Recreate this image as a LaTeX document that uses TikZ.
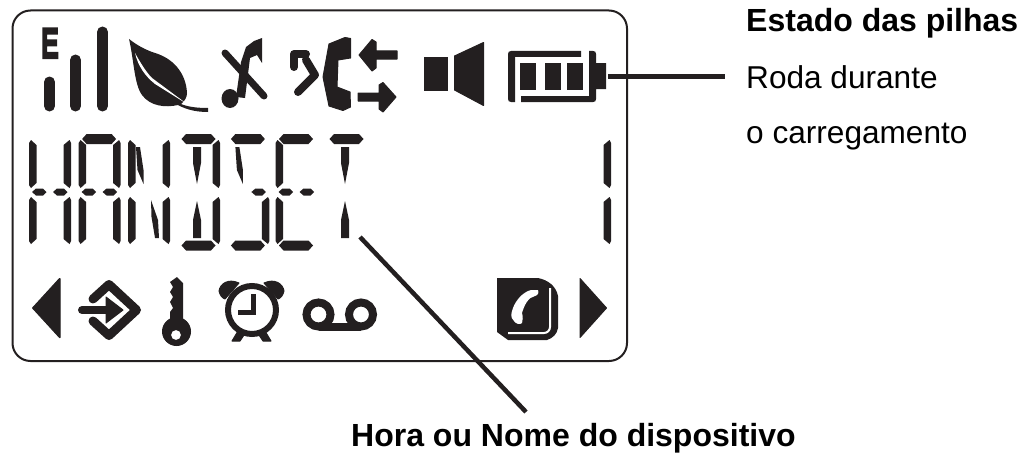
\documentclass[tikz,border=0pt]{standalone}
\usepackage{fontspec}
\setmainfont{Liberation Sans}
\newfontfamily\signalfont[FakeBold=10]{Liberation Sans}
\usetikzlibrary{positioning}
\definecolor{lcdink}{HTML}{231F20}

% one display segment each, drawn from the left edge of its character
\newcommand{\segtop}{\fill[seg] (3.5,139) -- (8,134) -- (33,134) -- (37.5,139) -- (33,144) -- (8,144) -- cycle;}
\newcommand{\segbot}{\fill[seg] (3.5,245.5) -- (8,240.5) -- (33,240.5) -- (37.5,245.5) -- (33,250.5) -- (8,250.5) -- cycle;}
\newcommand{\segml}{\fill[seg] (3,192) -- (7,188.5) -- (14,188.5) -- (17.5,192) -- (14,195.5) -- (7,195.5) -- cycle;}
\newcommand{\segmr}{\fill[seg] (24,192) -- (28,188.5) -- (35,188.5) -- (38.5,192) -- (35,195.5) -- (28,195.5) -- cycle;}
\newcommand{\segvlu}{\fill[seg] (0,143) -- (2,140) -- (7.5,145) -- (7.5,183) -- (2,188) -- (0,185) -- cycle;}
\newcommand{\segvld}{\fill[seg] (0,200) -- (2,197) -- (7.5,202) -- (7.5,239) -- (2,244) -- (0,241) -- cycle;}
\newcommand{\segvru}{\fill[seg] (42,143) -- (40.5,140) -- (34.5,145) -- (34.5,183) -- (40.5,188) -- (42,185) -- cycle;}
\newcommand{\segvrd}{\fill[seg] (42,200) -- (40.5,197) -- (34.5,202) -- (34.5,239) -- (40.5,244) -- (42,241) -- cycle;}
\newcommand{\segcu}{\fill[seg] (15,147) -- (23,147) -- (23,163) -- (19,184) -- (15,163) -- cycle;}
\newcommand{\segcd}{\fill[seg] (19,201) -- (23,220) -- (23,238) -- (15,238) -- (15,220) -- cycle;}
\newcommand{\segdu}{\fill[seg] (8,147) -- (12,147) -- (15.5,170) -- (15.5,184) -- (9.5,170) -- cycle;}
\newcommand{\segdl}{\fill[seg] (23,200) -- (30,220) -- (31,238) -- (27,238) -- (23.5,217) -- cycle;}

\begin{document}
\begin{tikzpicture}[
    x=1pt, y=-1pt,
    seg/.style={fill=lcdink},
    icon/.style={fill=lcdink, draw=lcdink, line width=1pt, line join=round},
    bar/.style={draw=lcdink, line width=#1, line cap=round, line join=round},
    leader/.style={draw=lcdink, line width=4.5pt},
    lbl/.style={font=\fontsize{31.6}{32}\selectfont, inner sep=0pt, anchor=base west},
    lblb/.style={lbl, font=\fontsize{32}{32}\selectfont\bfseries}
  ]
  \useasboundingbox (0,0) rectangle (1032,452);

  % Display frame
  \draw[draw=lcdink, line width=2pt, rounded corners=18pt] (12.5,10.5) rectangle (627,361);

  % Signal bars
  \node[inner sep=0pt, font=\fontsize{40}{40}\selectfont\signalfont, xscale=0.62, transform shape,
        anchor=base west, text=lcdink] (signale) at (41.5,57) {E};
  \draw[bar=11pt] (49.5,82) -- (49.5,106);
  \draw[bar=11pt] (75.5,60) -- (75.5,106);
  \draw[bar=11pt] (102.5,32) -- (102.5,106);

  % Leaf
  \fill[seg] (129,39) .. controls (138,46) and (146,50) .. (155,53)
    .. controls (172,58) and (186,72) .. (187,93)
    .. controls (187,97) and (185,101) .. (181,104)
    .. controls (188,107) and (198,108) .. (208,108) -- (208,112)
    .. controls (197,112) and (187,110) .. (178,105)
    .. controls (165,108) and (150,106) .. (142,95)
    .. controls (134,84) and (134,60) .. (129,39) -- cycle;
  \fill[white] (135,53) .. controls (138,66) and (145,76) .. (155,84) -- (187,104)
    -- (152,78) .. controls (146,72) and (140,62) .. (135,53) -- cycle;

  % Muted note
  \fill[seg] (230,98.5) ellipse (8.5 and 9.5);
  \fill[seg] (236,97) -- (241,62) -- (246,47) -- (254,41) -- (262,38) -- (262,63)
    -- (257,55) -- (250,58) -- (245,98) -- cycle;
  \draw[bar=7pt] (225,53) -- (264,96);

  % Call arrow
  \draw[bar=8pt] (306,54) -- (294,54) -- (294,67);
  \draw[bar=8pt] (306,60) -- (315,75) -- (298,92);

  % Handset and transfer arrows
  \fill[icon] (345,37.5) -- (350.5,38.5) -- (350.5,58) -- (338,60) -- (337,87) -- (350,92) -- (350.5,107)
    -- (343,110.5) -- (329,106) -- (323,77) -- (329,44) -- cycle;
  \fill[icon] (359,55) -- (372,39.5) -- (376,42) -- (376,51) -- (397,51) -- (397,59) -- (376,59) -- (376,68) -- (372,71) -- cycle;
  \fill[icon] (396,97) -- (383,82.5) -- (379,85) -- (379,93) -- (358,93) -- (358,101) -- (379,101) -- (379,109) -- (383,112) -- cycle;

  % Speaker
  \fill[icon] (424,57.5) rectangle (447.5,90.5);
  \fill[icon] (454.5,56) -- (483.5,42.5) -- (483.5,105.5) -- (454.5,90) -- cycle;

  % Battery
  \fill[seg] (581,51) -- (511,51) .. controls (509,51) and (508,52) .. (508,54)
    -- (508,99) .. controls (508,101) and (509,102) .. (511,102) -- (515,102) -- (515,57) -- (581,57) -- cycle;
  \fill[seg] (521,102) -- (593,102) .. controls (595,102) and (596,101) .. (596,99)
    -- (596,89) -- (606,89) -- (606,63) -- (596,63) -- (596,54) .. controls (596,52) and (595,51) .. (593,51)
    -- (589,51) -- (589,96) -- (521,96) -- cycle;
  \foreach \cellx in {520,545,567}
    \fill[seg] (\cellx,63) rectangle ++(16,27);
  \coordinate (battip) at (608,76.7);

  % HANDSET and the line number
  \foreach \cx/\seglist in {29/{vlu,vld,vru,vrd,ml,mr},
                            78.6/{vlu,vld,vru,vrd,top,ml,mr},
                            128/{vlu,vld,vru,vrd,du,dl},
                            178/{top,bot,cu,cd,vru,vrd},
                            227.4/{top,du,mr,vrd,bot},
                            275.5/{vlu,vld,top,ml,mr,bot},
                            326/{top,cu,cd},
                            569/{vru,vrd}}{
    \begin{scope}[xshift=\cx]
      \foreach \s in \seglist {\csname seg\s\endcsname}
    \end{scope}
  }

  % Bottom row
  \fill[icon] (32.5,308) -- (59.5,278.5) -- (60,278.5) -- (60,337.5) -- (59.5,337.5) -- cycle;
  \fill[icon] (580,278.5) -- (606.5,308) -- (580,337.5) -- cycle;

  % Enter icon
  \draw[bar=9pt] (93,299) -- (109,284.5) -- (136.5,310) -- (109,335.5) -- (93,321);
  \draw[bar=8pt] (82,310) -- (108,310);
  \fill[icon] (106,297) -- (123,310) -- (106,323) -- cycle;

  % Key
  \fill[seg] (177,277) -- (183,283) -- (183,325) -- (170,325) -- (170,312) -- (173,308) -- (170,302)
    -- (173,297) -- (170,292) -- (173,287) -- (170,282) -- cycle;
  \fill[seg, even odd rule] (176.5,331.5) circle (14.5) (176,335) circle (5);

  % Alarm clock
  \draw[draw=lcdink, line width=6pt] (252,310) circle (24);
  \draw[bar=5pt, line cap=butt, line join=miter] (253,294) -- (253,312) -- (238,312);
  \fill[icon] (219,291) .. controls (220,284) and (228,278) .. (239,283) -- (225,299) .. controls (222,298) and (220,295) .. (219,291) -- cycle;
  \fill[icon] (284,291) .. controls (283,284) and (275,278) .. (264,283) -- (278,299) .. controls (281,298) and (283,295) .. (284,291) -- cycle;
  \fill[icon] (232,341) -- (240,341) -- (244,335) -- (238,331) -- cycle;
  \fill[icon] (271,341) -- (263,341) -- (259,335) -- (265,331) -- cycle;

  % Voice mail
  \draw[draw=lcdink, line width=8pt] (318.5,314.5) circle (12);
  \draw[draw=lcdink, line width=8pt] (361,314.5) circle (12);
  \draw[draw=lcdink, line width=8pt] (318.5,326.5) -- (361,326.5);

  % Phone tag
  \fill[seg] (497,278) -- (538,278) .. controls (548,280) and (556,286) .. (558,296) -- (558,328)
    .. controls (557,334) and (553,338) .. (547,340) -- (508,340) -- (497,332) -- cycle;
  \draw[draw=white, line width=2pt, rounded corners=6pt] (550,288) -- (550,333) -- (508,333);
  \fill[white] (531,290) -- (538,290) .. controls (539,293) and (538,295) .. (535,296)
    .. controls (528,297) and (524,306) .. (522,313) .. controls (523,317) and (523,320) .. (522,323)
    .. controls (520,325) and (516,324) .. (514,321) .. controls (510,317) and (511,314) .. (513,308)
    .. controls (516,300) and (523,292) .. (531,290) -- cycle;

  % Labels
  \node[lblb] (estado) at (746,32) {Estado das pilhas};
  \node[lbl] (roda) at ([yshift=-56pt]estado.base west) {Roda durante};
  \node[lbl] (carga) at ([yshift=-55pt]roda.base west) {o carregamento};
  \node[lblb] (nome) at (351,446) {Hora ou Nome do dispositivo};

  % Leaders
  \coordinate (batend) at (725,76.7);
  \coordinate (segend) at (360,237);
  \coordinate (nomeend) at (526,412);
  \draw[leader] (battip) -- (batend);
  \draw[leader] (segend) -- (nomeend);
\end{tikzpicture}
\end{document}
